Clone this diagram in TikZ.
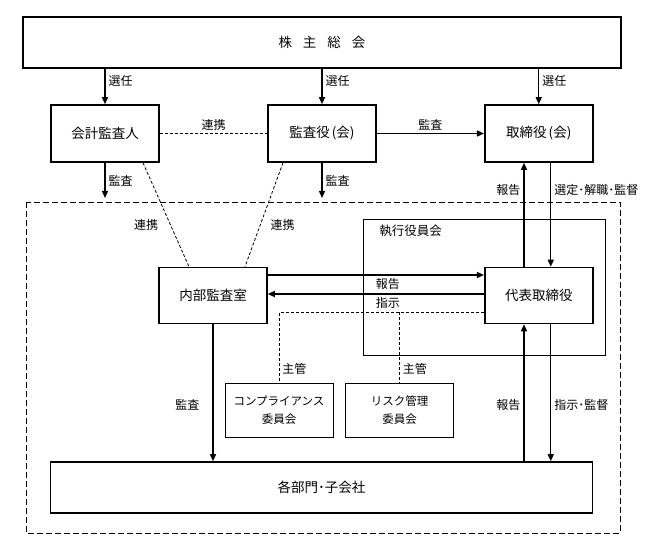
\documentclass[tikz,border=0pt]{standalone}
\usepackage{fontspec}
\setmainfont{Noto Sans CJK JP}
\usetikzlibrary{arrows.meta,positioning}

\tikzset{
	box/.style={draw,line width=1.6pt,minimum width=108pt,minimum height=57pt,font=\fontsize{13.5}{16}\selectfont},
	thinbox/.style={draw,line width=0.9pt,minimum width=108pt,minimum height=54pt,align=center,font=\fontsize{11.5}{18}\selectfont},
	flow/.style={line width=1.4pt,-{Triangle[length=7pt,width=6pt]}},
	link/.style={line width=0.8pt,dash pattern=on 3pt off 2pt},
	lbl/.style={font=\fontsize{12}{14}\selectfont,inner sep=3pt}
}

\begin{document}
\begin{tikzpicture}[x=1pt,y=-1pt]
	\useasboundingbox (0,0) rectangle (649,537);
	\draw[line width=0.9pt,dash pattern=on 6pt off 3pt] (26,202) rectangle (620,533);
	\node[box,minimum width=598pt,minimum height=51pt] (soukai) at (322,42.5) {株\hspace{11pt}主\hspace{11pt}総\hspace{11pt}会};
	\node[box] (kaikei) at (105,133.5) {会計監査人};
	\node[box] (kansayaku) at (322,133.5) {監査役\hspace{2pt}(会)};
	\node[box] (torishimari) at (538.75,133.5) {取締役\hspace{2pt}(会)};
	\node[thinbox,minimum width=241.5pt,minimum height=136pt] (shikko) at (484.25,287) {};
	\node[lbl,anchor=north west,font=\fontsize{12.5}{14}\selectfont] at ([xshift=13pt,yshift=-3pt]shikko.north west) {執行役員会};
	\node[box,minimum height=56pt] (naibu) at (213,295.5) {内部監査室};
	\node[box,minimum height=56pt] (daihyo) at (538.75,295.5) {代表取締役};
	\node[thinbox] (comp) at (279,410) {コンプライアンス\\委員会};
	\node[thinbox] (risk) at (399.5,410) {リスク管理\\委員会};
	\node[box,minimum width=542pt,minimum height=51pt] (kakubu) at (321.5,487.5) {各部門･子会社};

	\coordinate (kaikeiend) at (105,198);
	\coordinate (kansaend) at (322,198);
	\coordinate (up1) at ([xshift=-14.75pt]daihyo.south);
	\coordinate (dn1) at ([xshift=12pt]daihyo.south);
	\coordinate (shukan) at ([yshift=-17pt]daihyo.west);

	\draw[flow] (soukai.south -| kaikei) -- node[lbl,right,pos=0.35]{選任} (kaikei);
	\draw[flow] (soukai.south -| kansayaku) -- node[lbl,right,pos=0.35]{選任} (kansayaku);
	\draw[flow] (soukai.south -| torishimari) -- node[lbl,right,pos=0.35]{選任} (torishimari);
	\draw[link] (kaikei) -- node[lbl,above]{連携} (kansayaku);
	\draw[flow] (kansayaku) -- node[lbl,above]{監査} (torishimari);
	\draw[flow] (kaikei) -- node[lbl,right]{監査} (kaikeiend);
	\draw[flow] (kansayaku) -- node[lbl,right]{監査} (kansaend);
	\draw[link] ([xshift=38pt]kaikei.south) -- node[lbl,left=9pt,pos=0.6]{連携} ([xshift=-24pt]naibu.north);
	\draw[link] ([xshift=-39pt]kansayaku.south) -- node[lbl,right=7pt,pos=0.6]{連携} ([xshift=32pt]naibu.north);

	\draw[flow] ([yshift=20.5pt]naibu.east) -- node[lbl,below,pos=0.555]{報告} ([yshift=20.5pt]daihyo.west);
	\draw[flow] ([yshift=1.5pt]daihyo.west) -- node[lbl,below,pos=0.445]{指示} ([yshift=1.5pt]naibu.east);
	\draw[flow] ([xshift=-14.75pt]daihyo.north) -- node[lbl,left,pos=0.74]{報告} ([xshift=-14.75pt]torishimari.south);
	\draw[flow] ([xshift=12pt]torishimari.south) -- node[lbl,right,pos=0.26]{選定･解職･監督} ([xshift=12pt]daihyo.north);

	\draw[link] (shukan) -- (shukan -| comp.north) -- node[lbl,right,pos=0.8]{主管} (comp.north);
	\draw[link] (shukan -| risk.north) -- node[lbl,right,pos=0.8]{主管} (risk.north);

	\draw[flow] (naibu) -- node[lbl,left=10pt,pos=0.59]{監査} (naibu |- kakubu.north);
	\draw[flow] (kakubu.north -| up1) -- node[lbl,left,pos=0.41]{報告} (up1);
	\draw[flow] (dn1) -- node[lbl,right,pos=0.59]{指示･監督} (kakubu.north -| dn1);
\end{tikzpicture}
\end{document}
